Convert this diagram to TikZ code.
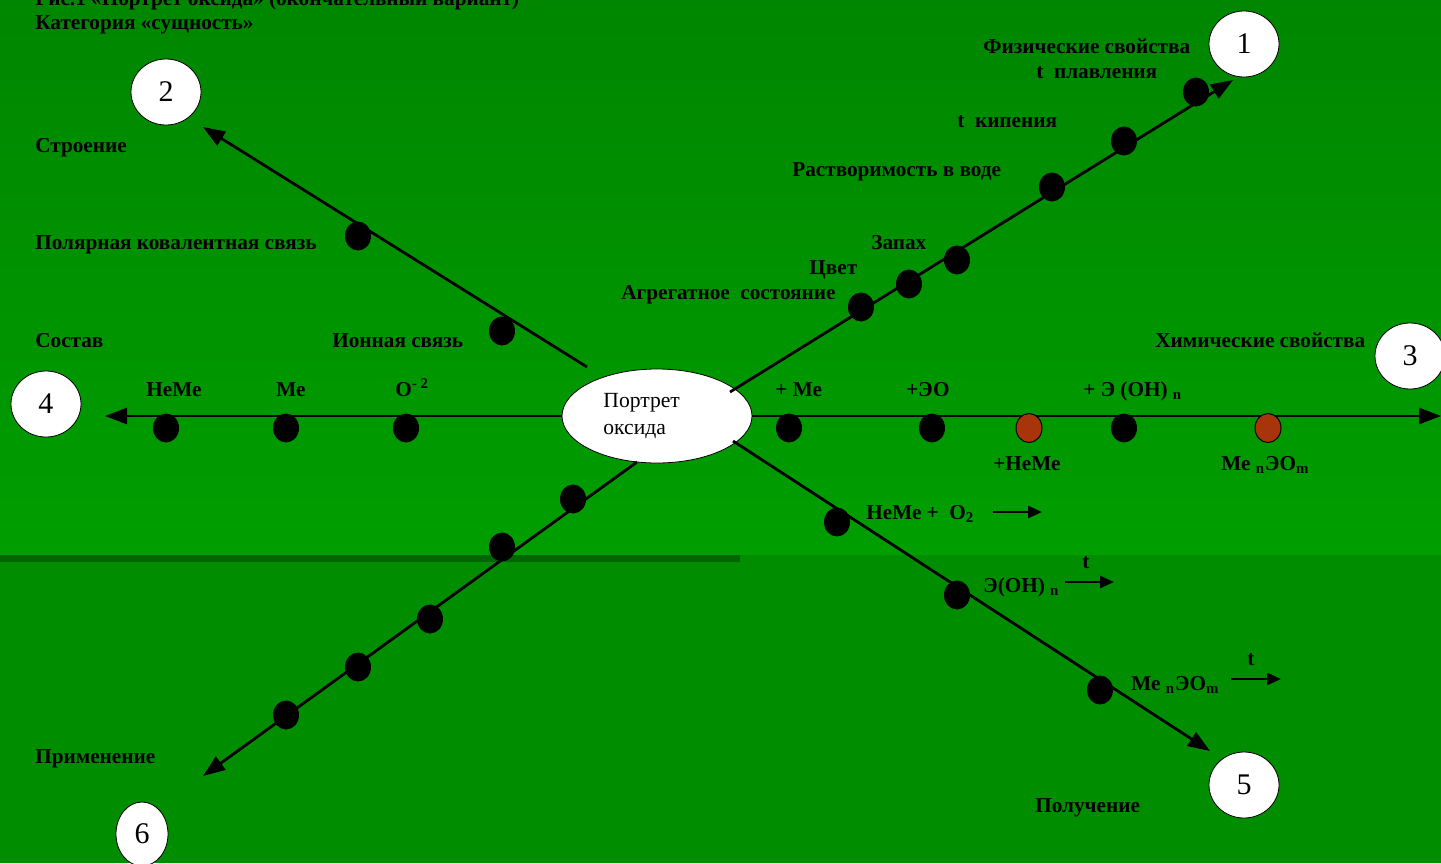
\documentclass[tikz,border=0pt]{standalone}
\usepackage{fontspec}
\setmainfont{Liberation Serif}
\usetikzlibrary{arrows.meta,shapes.geometric}

\definecolor{topgreen}{RGB}{0,134,0}
\definecolor{midgreen}{RGB}{0,158,0}
\definecolor{lowgreen}{RGB}{0,142,0}
\definecolor{bargreen}{RGB}{0,100,0}
\definecolor{rust}{RGB}{168,52,12}

\tikzset{
  axis/.style={line width=1.4pt, -{Triangle[length=11pt,width=8pt]}},
  react/.style={line width=1.4pt, -{Triangle[length=7pt,width=6pt]}},
  dot/.style={ellipse, fill=black, minimum width=13pt, minimum height=14.5pt, inner sep=0pt},
  rdot/.style={dot, fill=rust, draw=black, line width=0.5pt},
  num/.style={ellipse, draw=black, fill=white, minimum width=35pt, minimum height=33pt, inner sep=0pt, font=\fontsize{15}{17}\selectfont},
  lbl/.style={anchor=base west, inner sep=0pt, font=\fontsize{10.6}{13}\selectfont\bfseries},
}

\begin{document}
\begin{tikzpicture}[x=0.5pt, y=-0.5pt]
			\useasboundingbox (0,0) rectangle (1441,863);
			% background
			\fill[top color=topgreen, bottom color=midgreen] (0,0) rectangle (1441,555);
			\fill[lowgreen] (0,555) rectangle (1441,863);
			\fill[bargreen] (0,555) rectangle (740,562);
			% centre
			\node[ellipse, draw=black, fill=white, minimum width=95pt, minimum height=47pt] (portrait) at (657,416) {};
			\node[anchor=west, align=left, inner sep=0pt, font=\fontsize{10.8}{13.5}\selectfont] (portraittext) at (603,416) {Портрет\\оксида};
			% numbered circles
			\node[num] (c1) at (1244,44) {1};
			\node[num] (c2) at (166,92) {2};
			\node[num] (c3) at (1410,356) {3};
			\node[num] (c4) at (46,404) {4};
			\node[num] (c5) at (1244,785) {5};
			\node[num, minimum width=26pt, minimum height=32pt] (c6) at (142,834) {6};
			% line ends
			\coordinate (s1) at (730,392);
			\coordinate (e1) at (1233,80);
			\coordinate (s2) at (587,367);
			\coordinate (e2) at (203,127);
			\coordinate (e3) at (1441,416);
			\coordinate (e4) at (105,416);
			\coordinate (s5) at (733,441);
			\coordinate (e5) at (1210,751);
			\coordinate (s6) at (637,462);
			\coordinate (e6) at (203,776);
			% axes
			\draw[axis] (s1) -- (e1);
			\draw[axis] (s2) -- (e2);
			\draw[axis] (portrait.east) -- (e3);
			\draw[axis] (portrait.west) -- (e4);
			\draw[axis] (s5) -- (e5);
			\draw[axis] (s6) -- (e6);
			% dots
			\node[dot] (d11) at (861,307) {};
			\node[dot] (d12) at (909,284) {};
			\node[dot] (d13) at (957,260) {};
			\node[dot] (d14) at (1052,187) {};
			\node[dot] (d15) at (1124,141) {};
			\node[dot] (d16) at (1196,92) {};
			\node[dot] (d21) at (358,236) {};
			\node[dot] (d22) at (502,331) {};
			\node[dot] (d31) at (789,428) {};
			\node[dot] (d32) at (932,428) {};
			\node[rdot] (d33) at (1029,428) {};
			\node[dot] (d34) at (1124,428) {};
			\node[rdot] (d35) at (1268,428) {};
			\node[dot] (d41) at (166,428) {};
			\node[dot] (d42) at (286,428) {};
			\node[dot] (d43) at (406,428) {};
			\node[dot] (d51) at (837,522) {};
			\node[dot] (d52) at (957,595) {};
			\node[dot] (d53) at (1100,690) {};
			\node[dot] (d61) at (573,499) {};
			\node[dot] (d62) at (502,547) {};
			\node[dot] (d63) at (430,619) {};
			\node[dot] (d64) at (358,667) {};
			\node[dot] (d65) at (286,715) {};
			% heading
			\node[lbl] (title) at (35,5) {Рис.1 «Портрет оксида» (окончательный вариант)};
			\node[lbl] (category) at (35,29) {Категория «сущность»};
			% left labels
			\node[lbl] (stroenie) at (35,152) {Строение};
			\node[lbl] (polar) at (35,249) {Полярная ковалентная связь};
			\node[lbl] (sostav) at (35,347) {Состав};
			\node[lbl] (ionic) at (332,347) {Ионная связь};
			\node[lbl] (heme) at (146,396) {НеМе};
			\node[lbl] (me) at (276,396) {Ме};
			\node[lbl] (oxy) at (395,396) {O\textsuperscript{- 2}};
			\node[lbl] (primen) at (35,763) {Применение};
			% physical properties
			\node[lbl] (phys) at (983,53) {Физические свойства};
			\node[lbl] (melt) at (1036,78) {t\ \ плавления};
			\node[lbl] (boil) at (957,127) {t\ \ кипения};
			\node[lbl] (solub) at (792,176) {Растворимость в воде};
			\node[lbl] (smell) at (871,249) {Запах};
			\node[lbl] (colour) at (809,274) {Цвет};
			\node[lbl] (state) at (621,299) {Агрегатное\ \ состояние};
			% chemical properties
			\node[lbl] (chem) at (1155,347) {Химические свойства};
			\node[lbl] (plusme) at (775,396) {+ Ме};
			\node[lbl] (pluseo) at (906,396) {+ЭО};
			\node[lbl] (plusoh) at (1083,396) {+ Э (ОН) \textsubscript{n}};
			\node[lbl] (plusheme) at (993,470) {+НеМе};
			\node[lbl] (salt) at (1221,470) {Ме \textsubscript{n}ЭО\textsubscript{m}};
			% obtaining
			\node[lbl] (r1) at (866,519) {НеМе +\ \ O\textsubscript{2}};
			\node[lbl] (r2) at (983,592) {Э(ОН) \textsubscript{n}};
			\node[lbl] (r3) at (1131,690) {Ме \textsubscript{n}ЭО\textsubscript{m}};
			\node[lbl] (t1) at (1082,568) {t};
			\node[lbl] (t2) at (1247,665) {t};
			\node[lbl] (poluch) at (1035,812) {Получение};
			% reaction arrows
			\coordinate (a1) at (993,512);
			\coordinate (b1) at (1042,512);
			\coordinate (a2) at (1065,582);
			\coordinate (b2) at (1114,582);
			\coordinate (a3) at (1231,679);
			\coordinate (b3) at (1281,679);
			\draw[react] (a1) -- (b1);
			\draw[react] (a2) -- (b2);
			\draw[react] (a3) -- (b3);
		\end{tikzpicture}
\end{document}
